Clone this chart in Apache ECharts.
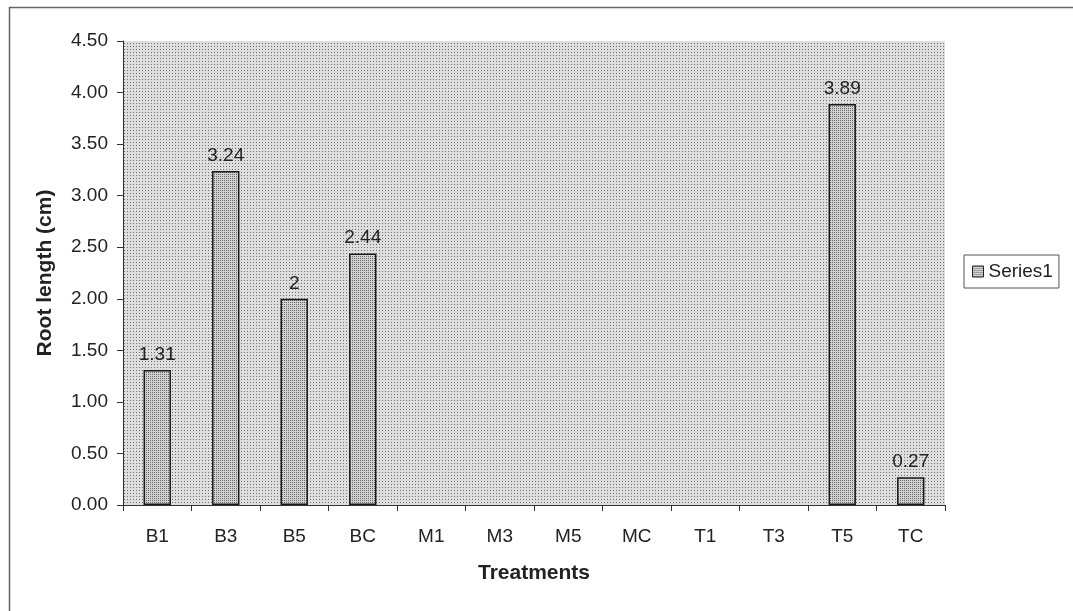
<!DOCTYPE html>
<html>
<head>
<meta charset="utf-8">
<script src="https://cdn.jsdelivr.net/npm/echarts@6/dist/echarts.min.js"></script>
<style>
html,body{margin:0;padding:0;background:#fff;}
#chart{width:1073px;height:611px;}
</style>
</head>
<body>
<div id="chart"></div>
<script>
// Root length per treatment (cm); treatments without a reading are null
const categories = ['B1','B3','B5','BC','M1','M3','M5','MC','T1','T3','T5','TC'];
const rootLength = [1.31, 3.24, 2, 2.44, null, null, null, null, null, null, 3.89, 0.27];
const yTicks = { min: 0, max: 4.5, interval: 0.5 };

// Stippled fills built on small canvases
function stipple(bg, dot, size, dots) {
  const c = document.createElement('canvas');
  c.width = size; c.height = size;
  const g = c.getContext('2d');
  g.fillStyle = bg; g.fillRect(0, 0, size, size);
  g.fillStyle = dot;
  dots.forEach(p => g.fillRect(p[0], p[1], 1, 1));
  return c;
}
const plotFill = { image: stipple('#dedede', '#6e6e6e', 3, [[1,1]]), repeat: 'repeat' };
const barFill = { image: stipple('#d2d2d2', '#6a6a6a', 2, [[0,0]]), repeat: 'repeat' };

const chart = echarts.init(document.getElementById('chart'), null, { renderer: 'canvas' });
const font = 'Liberation Sans, Arial, sans-serif';

chart.setOption({
  animation: false,
  backgroundColor: '#fff',
  graphic: [{
    type: 'rect', left: 7, top: 5, z: -1,
    shape: { width: 1065, height: 640 },
    style: { fill: 'none', stroke: '#666', lineWidth: 1.5 }
  }],
  grid: {
    left: 123, top: 41, width: 822, height: 464,
    show: true, backgroundColor: plotFill, borderWidth: 0
  },
  legend: {
    data: ['Series1'],
    left: 964, top: 255,
    orient: 'vertical',
    borderColor: '#555', borderWidth: 1, borderRadius: 0,
    padding: [7, 6, 7, 8],
    itemWidth: 11, itemHeight: 11, itemGap: 6,
    icon: 'rect',
    itemStyle: { borderColor: '#222', borderWidth: 1 },
    textStyle: { fontFamily: font, fontSize: 19, color: '#222' }
  },
  xAxis: {
    type: 'category',
    data: categories,
    name: 'Treatments',
    nameLocation: 'middle',
    nameGap: 58,
    nameTextStyle: { fontFamily: font, fontSize: 21, fontWeight: 'bold', color: '#222' },
    axisLine: { lineStyle: { color: '#333', width: 1 } },
    axisTick: { show: true, length: 6, alignWithLabel: false, lineStyle: { color: '#333' } },
    axisLabel: { fontFamily: font, fontSize: 19, color: '#222', margin: 22 },
    splitLine: { show: false }
  },
  yAxis: {
    type: 'value',
    min: yTicks.min, max: yTicks.max, interval: yTicks.interval,
    name: 'Root length (cm)',
    nameLocation: 'middle',
    nameGap: 67,
    nameTextStyle: { fontFamily: font, fontSize: 21, fontWeight: 'bold', color: '#222' },
    axisLine: { show: true, lineStyle: { color: '#333', width: 1 } },
    axisTick: { show: true, length: 6, inside: false, lineStyle: { color: '#333' } },
    axisLabel: {
      fontFamily: font, fontSize: 19, color: '#222', margin: 15,
      formatter: v => v.toFixed(2)
    },
    splitLine: { show: false }
  },
  series: [{
    name: 'Series1',
    type: 'bar',
    data: rootLength,
    barWidth: '40%',
    itemStyle: { color: barFill, borderColor: '#1a1a1a', borderWidth: 1.5 },
    label: {
      show: true, position: 'top', distance: 6,
      fontFamily: font, fontSize: 19, color: '#222',
      formatter: p => (p.value == null ? '' : String(p.value))
    }
  }]
});
</script>
</body>
</html>
